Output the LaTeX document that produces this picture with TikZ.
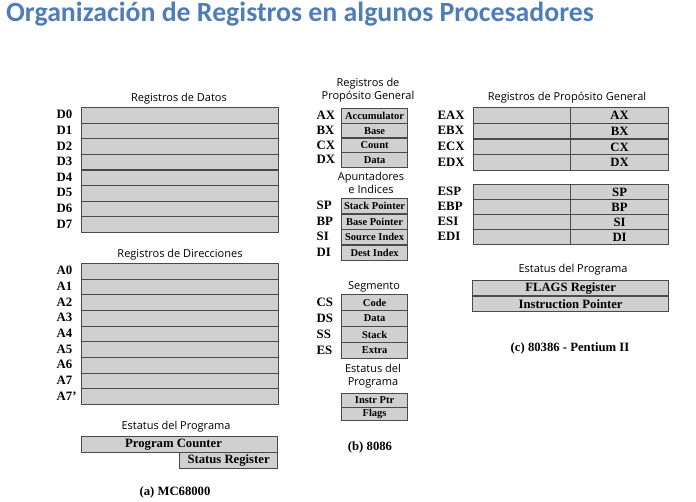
\documentclass[tikz,border=0pt]{standalone}
\usepackage{fontspec}
\setmainfont{Liberation Serif}
\newfontfamily\hdfont{Open Sans}
\newfontfamily\titfont{Carlito}
\definecolor{titblue}{HTML}{4F7DB8}
\definecolor{regfill}{HTML}{D0D0D0}
\definecolor{regline}{HTML}{4A4A4A}
\tikzset{
  reg/.style={draw=regline, fill=regfill, line width=1.2pt, anchor=north west, inner sep=0pt, font=\bfseries\fontsize{10.5}{10.5}\selectfont},
  lbl/.style={anchor=west, inner sep=0pt, font=\bfseries\fontsize{12.8}{13}\selectfont},
  hd/.style={inner sep=0pt, align=center, font=\hdfont\fontsize{11}{12.5}\selectfont},
  captxt/.style={inner sep=0pt, font=\bfseries\fontsize{12.7}{13}\selectfont},
  bigreg/.style={reg, font=\bfseries\fontsize{12.7}{13}\selectfont},
}
\begin{document}
\begin{tikzpicture}[x=1pt,y=-1pt]
\useasboundingbox (0,0) rectangle (696,502);
\node[anchor=west, inner sep=0pt, text=titblue, font=\titfont\bfseries\fontsize{27.8}{30}\selectfont] (title) at (6,14.5) {Organización de Registros en algunos Procesadores};

% ---------- (a) MC68000 ----------
\node[hd] (hdatos) at (179,99) {Registros de Datos};
\foreach \i in {0,...,7}{
  \node[reg, minimum width=197pt, minimum height=15.6pt] (d\i) at (81,{107+15.6*\i}) {};
  \node[lbl] (ld\i) at (56.5,{107+15.6*\i+7.8}) {D\i};
}
\node[hd] (hdir) at (180,255) {Registros de Direcciones};
\foreach \i/\t in {0/A0,1/A1,2/A2,3/A3,4/A4,5/A5,6/A6,7/A7,8/A7'}{
  \node[reg, minimum width=197pt, minimum height=15.65pt] (a\i) at (81,{263+15.65*\i}) {};
  \node[lbl] (la\i) at (56.5,{263+15.65*\i+7.8}) {\t};
}
\node[hd] (hsta) at (176,427) {Estatus del Programa};
\node[bigreg, minimum width=196pt, minimum height=16.5pt] (pc) at (81,435.5) {\hspace*{-12pt}Program Counter};
\node[bigreg, minimum width=98pt, minimum height=15.5pt] (sr) at (179,452) {Status Register};
\node[captxt] (capa) at (175,492) {(a) MC68000};

% ---------- (b) 8086 ----------
\node[hd] (hgp) at (368,90) {Registros de\\Propósito General};
\foreach \i/\l/\t in {0/AX/Accumulator,1/BX/Base,2/CX/Count,3/DX/Data}{
  \node[reg, minimum width=66pt, minimum height=14.75pt] (g\i) at (341,{108+14.75*\i}) {\t};
  \node[lbl] (lg\i) at (316.5,{108+14.75*\i+7.4}) {\l};
}
\node[hd] (hap) at (371,183) {Apuntadores\\e Indices};
\foreach \i/\l/\t in {0/SP/Stack Pointer,1/BP/Base Pointer,2/SI/Source Index,3/DI/Dest Index}{
  \node[reg, minimum width=66pt, minimum height=15.5pt] (p\i) at (341,{198+15.5*\i}) {\t};
  \node[lbl] (lp\i) at (316.5,{198+15.5*\i+7.75}) {\l};
}
\node[hd] (hseg) at (374,287) {Segmento};
\foreach \i/\l/\t in {0/CS/Code,1/DS/Data,2/SS/Stack,3/ES/Extra}{
  \node[reg, minimum width=66pt, minimum height=16pt] (s\i) at (341,{294+16*\i}) {\t};
  \node[lbl] (ls\i) at (316.5,{294+16*\i+8}) {\l};
}
\node[hd] (hst) at (373,376) {Estatus del\\Programa};
\node[reg, minimum width=66pt, minimum height=13.5pt] (ip) at (341,393) {Instr Ptr};
\node[reg, minimum width=66pt, minimum height=13.5pt] (fl) at (341,406.5) {Flags};
\node[captxt] (capb) at (370,447) {(b) 8086};

% ---------- (c) 80386 - Pentium II ----------
\node[hd] (hgp3) at (567,98) {Registros de Propósito General};
\foreach \i/\l/\t in {0/EAX/AX,1/EBX/BX,2/ECX/CX,3/EDX/DX}{
  \node[reg, minimum width=97pt, minimum height=15.75pt] (el\i) at (473,{107+15.75*\i}) {};
  \node[bigreg, minimum width=98pt, minimum height=15.75pt] (er\i) at (570,{107+15.75*\i}) {\t};
  \node[lbl] (le\i) at (437.5,{107+15.75*\i+7.9}) {\l};
}
\foreach \i/\l/\t in {0/ESP/SP,1/EBP/BP,2/ESI/SI,3/EDI/DI}{
  \node[reg, minimum width=97pt, minimum height=15pt] (ql\i) at (473,{184+15*\i}) {};
  \node[bigreg, minimum width=98pt, minimum height=15pt] (qr\i) at (570,{184+15*\i}) {\t};
  \node[lbl] (lq\i) at (437.5,{184+15*\i+7.5}) {\l};
}
\node[hd] (hst3) at (573,270) {Estatus del Programa};
\node[bigreg, minimum width=196pt, minimum height=15.5pt] (flags) at (472,280) {FLAGS Register};
\node[bigreg, minimum width=196pt, minimum height=15.5pt] (iptr) at (472,295.5) {Instruction Pointer};
\node[captxt] (capc) at (570,348) {(c) 80386 - Pentium II};
\end{tikzpicture}
\end{document}
